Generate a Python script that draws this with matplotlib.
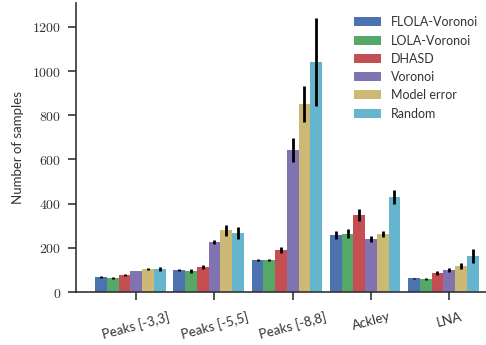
import numpy as np
import matplotlib
matplotlib.use("Agg")
import matplotlib.pyplot as plt
from matplotlib.ticker import FuncFormatter

# Benchmark problems and sampling strategies
problems = ["Peaks [-3,3]", "Peaks [-5,5]", "Peaks [-8,8]", "Ackley", "LNA"]
methods = ["FLOLA-Voronoi", "LOLA-Voronoi", "DHASD", "Voronoi", "Model error", "Random"]
colors = ["#4C72B0", "#55A868", "#C44E52", "#8172B2", "#CCB974", "#64B5CD"]

# Mean number of samples per method (rows) and problem (columns)
flola_voronoi = [68, 100, 145, 258, 63]
lola_voronoi = [63, 95, 145, 263, 59]
dhasd = [77, 113, 190, 349, 86]
voronoi = [95, 227, 643, 240, 100]
model_error = [104, 280, 851, 263, 118]
random_samp = [104, 267, 1042, 430, 163]

# Error bar half-widths
err_flola_voronoi = [3, 5, 3, 17, 2]
err_lola_voronoi = [3, 8, 3, 20, 3]
err_dhasd = [4, 7, 13, 26, 10]
err_voronoi = [2, 8, 54, 12, 9]
err_model_error = [5, 25, 83, 13, 14]
err_random = [11, 25, 200, 32, 32]

means = [flola_voronoi, lola_voronoi, dhasd, voronoi, model_error, random_samp]
errors = [err_flola_voronoi, err_lola_voronoi, err_dhasd, err_voronoi,
          err_model_error, err_random]

plt.rcParams["mathtext.fontset"] = "cm"
plt.rcParams["font.family"] = ["Lato", "DejaVu Sans"]

fig = plt.figure(figsize=(4.86, 3.45), dpi=100)
ax = fig.add_axes([76 / 486, 53 / 345, 410 / 486, 289 / 345])

x = np.arange(len(problems))
w = 0.15
for j, (name, m, e, c) in enumerate(zip(methods, means, errors, colors)):
    pos = x + (j - 3) * w
    ax.bar(pos, m, width=w, color=c, label=name, linewidth=0, zorder=2)
    ax.errorbar(pos, m, yerr=e, fmt="none", ecolor="black", elinewidth=2,
                capsize=0, zorder=3)

ax.set_xlim(-0.77, 4.47)
ax.set_ylim(0, 1308)
ax.set_xticks(x)
ax.set_xticklabels(problems, rotation=15, ha="center", fontsize=9.5, color="#333333")
ax.set_yticks(np.arange(0, 1201, 200))
ax.yaxis.set_major_formatter(FuncFormatter(lambda v, p: r"$%d$" % v))
ax.tick_params(axis="y", labelsize=10, length=5.5, width=1.2, color="#333333",
               labelcolor="#333333", pad=5)
ax.tick_params(axis="x", length=5.5, width=1.2, color="#333333", pad=8)
ax.set_ylabel("Number of samples", fontsize=9.5, color="#333333", labelpad=6)

for side in ["top", "right"]:
    ax.spines[side].set_visible(False)
for side in ["left", "bottom"]:
    ax.spines[side].set_linewidth(1.2)
    ax.spines[side].set_color("#333333")

leg = ax.legend(loc="upper right", bbox_to_anchor=(1.0, 0.98), frameon=False,
                fontsize=9, handlelength=2.2, handleheight=0.75,
                labelspacing=0.5, handletextpad=0.8, borderaxespad=0.2)
for t in leg.get_texts():
    t.set_color("#333333")

fig.savefig("out.png", dpi=100)
